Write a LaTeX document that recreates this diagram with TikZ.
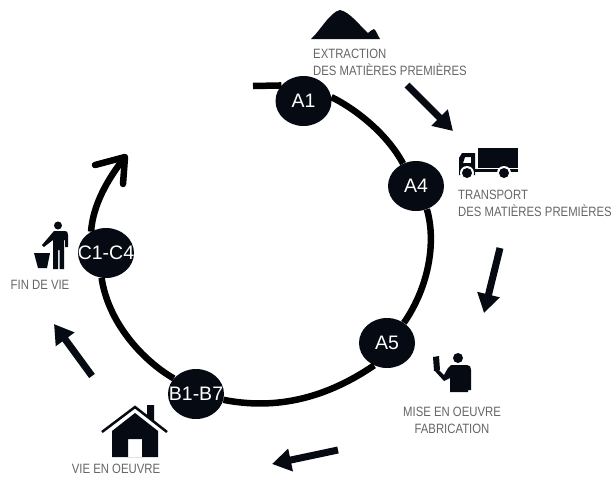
\documentclass[tikz,border=0pt]{standalone}
\usepackage{fontspec}
\setmainfont{Liberation Sans}
\newfontfamily\capfont[FakeStretch=0.84]{Liberation Sans}
\usetikzlibrary{shapes.geometric,arrows.meta}
\definecolor{inkdark}{HTML}{060A12}
\definecolor{labelgrey}{HTML}{666666}

\begin{document}
\begin{tikzpicture}
  [x=1pt,y=-1pt,
   stage/.style={ellipse,fill=inkdark,text=white,inner sep=0pt,minimum width=56pt,minimum height=50pt,font=\fontsize{19.5}{19.5}\selectfont},
   ring/.style={draw=black,line width=6.5pt},
   flow/.style={draw=inkdark,line width=7pt,-{Triangle[length=19pt,width=22pt]}},
   icon/.style={fill=inkdark,draw=none},
   caption/.style={text=labelgrey,inner sep=0pt,font=\capfont\fontsize{13.5}{17}\selectfont}]

  \useasboundingbox (0,0) rectangle (611,477);
  \fill[white] (0,0) rectangle (611,477);

  \node[stage] (a1) at (303.5,101) {\makebox[0pt]{A1}};
  \node[stage] (a4) at (416,186) {\makebox[0pt]{A4}};
  \node[stage] (a5) at (387,343) {\makebox[0pt]{A5}};
  \node[stage] (b1) at (196,394) {\makebox[0pt]{B1-B7}};
  \node[stage] (c1) at (106,253) {\makebox[0pt]{C1-C4}};

  \coordinate (start) at (253,86);
  \coordinate (tip) at (125,157);
  \coordinate (barb1) at (95,165);
  \coordinate (barb2) at (123,184);

  % ring
  \draw[ring] (start) -- (a1.145);
  \draw[ring] (a1.8) .. controls (350,106) and (385,130) .. (a4.120);
  \draw[ring] (a4.-65) .. controls (436,240) and (430,285) .. (a5.50);
  \draw[ring] (a5.-120) .. controls (335,392) and (285,412) .. (b1.-12);
  \draw[ring] (b1.145) .. controls (142,360) and (108,322) .. (c1.-100);
  \draw[ring] (c1.125) .. controls (93,205) and (107,180) .. (tip);
  \draw[ring,line cap=round,line join=round] (barb1) -- (tip) -- (barb2);

  % flow arrows
  \coordinate (f1) at (407,85);
  \coordinate (t1) at (453,131);
  \coordinate (f2) at (500,248);
  \coordinate (t2) at (484,313);
  \coordinate (f3) at (338,450);
  \coordinate (t3) at (272,464);
  \coordinate (f4) at (92,376);
  \coordinate (t4) at (54,324);
  \foreach \from/\to in {f1/t1,f2/t2,f3/t3,f4/t4}
    \draw[flow] (\from) -- (\to);

  % mountain
  \fill[icon] (311,39) .. controls (320,31) and (330,12) .. (340,10) .. controls (350,12) and (360,26) .. (368,33) .. controls (370,32) and (372,29) .. (374,29) .. controls (376,30) and (378,36) .. (380,39) -- cycle;

  % truck
  \fill[icon] (478,148) rectangle (518,168);
  \fill[icon] (475,169) rectangle (518,172);
  \fill[icon,even odd rule] (459,175) -- (459,158) -- (462,153) -- (475,153) -- (475,175) -- cycle (463,163) -- (465,157) -- (471,157) -- (471,163) -- cycle;
  \fill[white] (467,173) circle (7) (504,173) circle (7);
  \fill[icon] (467,173) circle (5) (504,173) circle (5);

  % person with bin
  \fill[icon] (58,225.5) circle (4);
  \fill[icon] (54,231) -- (65,231) .. controls (67,231) and (68,232) .. (68,235) -- (68,247) -- (65,247) -- (65,240) -- (64,240) -- (64,269) -- (59.5,269) -- (59.5,250) -- (58,250) -- (58,269) -- (53,269) -- (53,240) -- (44,247) -- (42,245) -- cycle;
  \fill[icon] (34,253) -- (50,253) -- (47,268) -- (38,268) -- cycle;

  % person with board
  \fill[icon] (458,358) circle (5);
  \fill[icon] (433,357) -- (439,356) -- (440,370) -- (434,371) -- cycle;
  \fill[icon] (451,365) -- (467,365) .. controls (470,365) and (471,367) .. (471,370) -- (471,390) -- (468,390) -- (468,392) -- (450,392) -- (450,378) -- (444,381) -- (434,370) -- (437,368) -- (444,375) -- (448,368) -- cycle;

  % house
  \fill[icon] (147,405) -- (154,405) -- (154,423) -- (147,417) -- cycle;
  \draw[inkdark,line width=2.5pt] (102,432) -- (135,407) -- (167,432);
  \fill[icon,even odd rule] (135,413) -- (158,431) -- (158,457) -- (112,457) -- (112,431) -- cycle (128,439) rectangle (142,457);

  % labels
  \node[caption,align=left,anchor=base west] (l1) at (313,75) {EXTRACTION\\DES MATIÈRES PREMIÈRES};
  \node[caption,align=left,anchor=base west] (l2) at (458,216) {TRANSPORT\\DES MATIÈRES PREMIÈRES};
  \node[caption,align=center,anchor=base] (l3) at (452,433) {MISE EN OEUVRE\\FABRICATION};
  \node[caption,anchor=base] (l4) at (116,473.5) {VIE EN OEUVRE};
  \node[caption,anchor=base] (l5) at (40,289) {FIN DE VIE};
\end{tikzpicture}
\end{document}
